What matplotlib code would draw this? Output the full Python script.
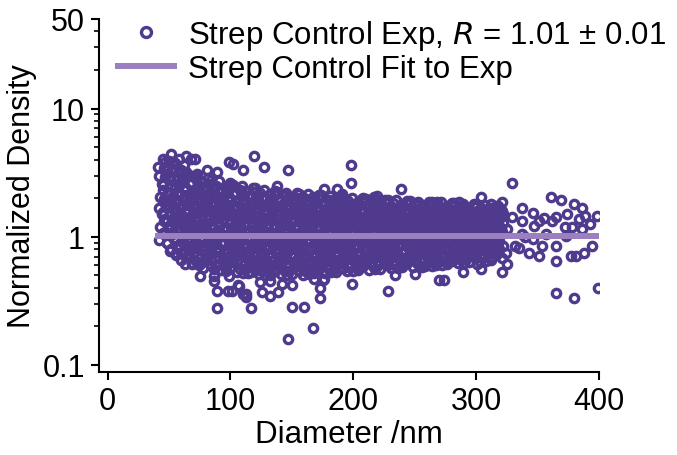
import matplotlib
matplotlib.use("Agg")
import matplotlib.pyplot as plt
from matplotlib.ticker import FixedLocator, NullFormatter
import numpy as np

plt.rcParams['font.family'] = ['Liberation Sans', 'DejaVu Sans']

# dense core of the cloud, read column by column (diameter in nm)
core_diam = [
    42, 45, 43, 46, 44, 42, 46, 43, 45, 44, 42, 46,
    51, 48, 52, 49, 48, 51, 50, 52, 49, 52, 50, 48,
    56, 58, 54, 57, 55, 58, 54, 56, 58, 55, 57, 55,
    60, 63, 61, 64, 62, 60, 64, 61, 63, 62, 60, 64,
    69, 66, 70, 67, 66, 69, 68, 70, 67, 70, 68, 66,
    74, 76, 72, 75, 73, 76, 72, 74, 76, 73, 75, 73,
    78, 81, 79, 82, 80, 78, 82, 79, 81, 80, 78, 82,
    87, 84, 88, 85, 84, 87, 86, 88, 85, 88, 86, 84,
    92, 94, 90, 93, 91, 94, 90, 92, 94, 91, 93, 91,
    96, 99, 97, 100, 98, 96, 100, 97, 99, 98, 96, 100,
    105, 102, 106, 103, 102, 105, 104, 106, 103, 106, 104, 102,
    110, 112, 108, 111, 109, 112, 108, 110, 112, 109, 111, 109,
    114, 117, 115, 118, 116, 114, 118, 115, 117, 116, 114, 118,
    123, 120, 124, 121, 120, 123, 122, 124, 121, 124, 122, 120,
    128, 130, 126, 129, 127, 130, 126, 128, 130, 127, 129, 127,
    132, 135, 133, 136, 134, 132, 136, 133, 135, 134, 132, 136,
    141, 138, 142, 139, 138, 141, 140, 142, 139, 142, 140, 138,
    146, 148, 144, 147, 145, 148, 144, 146, 148, 145, 147, 145,
    150, 153, 151, 154, 152, 150, 154, 151, 153, 152, 150, 154,
    159, 156, 160, 157, 156, 159, 158, 160, 157, 160, 158, 156,
    164, 166, 162, 165, 163, 166, 162, 164, 166, 163, 165, 163,
    168, 171, 169, 172, 170, 168, 172, 169, 171, 170, 168, 172,
    177, 174, 178, 175, 174, 177, 176, 178, 175, 178, 176, 174,
    182, 184, 180, 183, 181, 184, 180, 182, 184, 181, 183, 181,
    186, 189, 187, 190, 188, 186, 190, 187, 189, 188, 186, 190,
    195, 192, 196, 193, 192, 195, 194, 196, 193, 196, 194, 192,
    200, 202, 198, 201, 199, 202, 198, 200, 202, 199, 201, 199,
    204, 207, 205, 208, 206, 204, 208, 205, 207, 206, 204, 208,
    213, 210, 214, 211, 210, 213, 212, 214, 211, 214, 212, 210,
    218, 220, 216, 219, 217, 220, 216, 218, 220, 217, 219, 217,
    222, 225, 223, 226, 224, 222, 226, 223, 225, 224, 222, 226,
    231, 228, 232, 229, 228, 231, 230, 232, 229, 232, 230, 228,
    236, 238, 234, 237, 235, 238, 234, 236, 238, 235, 237, 235,
    240, 243, 241, 244, 242, 240, 244, 241, 243, 242, 240, 244,
    249, 246, 250, 247, 246, 249, 248, 250, 247, 250, 248, 246,
    254, 256, 252, 255, 253, 256, 252, 254, 256, 253, 255, 253,
    258, 261, 259, 262, 260, 258, 262, 259, 261, 260, 258, 262,
    267, 264, 268, 265, 264, 267, 266, 268, 265, 268, 266, 264,
    272, 274, 270, 273, 271, 274, 270, 272, 274, 271, 273, 271,
    276, 279, 277, 280, 278, 276, 280, 277, 279, 278, 276, 280,
    285, 282, 286, 283, 282, 285, 284, 286, 283, 286, 284, 282,
    290, 292, 288, 291, 289, 292, 288, 290, 292, 289, 291, 289,
    294, 297, 295, 298, 296, 294, 298, 295, 297, 296, 294, 298,
    303, 300, 304, 301, 300, 303, 302, 304, 301, 304, 302, 300,
    308, 310, 306, 309, 307, 310, 306, 308, 310, 307, 309, 307,
    312, 315, 313, 316, 314, 312, 316, 313, 315, 314, 312, 316,
    321, 318, 322, 319, 318, 321, 320, 322, 319, 322, 320, 318,
]
core_dens = [
    0.95, 1.07, 1.2, 1.33, 1.5, 1.68, 1.85, 2.05, 2.3, 2.6, 3.0, 3.45,
    0.78, 0.9, 1.03, 1.17, 1.32, 1.5, 1.7, 1.92, 2.2, 2.5, 2.9, 3.55,
    0.72, 0.84, 0.97, 1.1, 1.26, 1.42, 1.62, 1.84, 2.1, 2.4, 2.8, 3.35,
    0.66, 0.77, 0.9, 1.03, 1.18, 1.35, 1.54, 1.76, 2.0, 2.3, 2.7, 3.2,
    0.62, 0.73, 0.85, 0.98, 1.12, 1.28, 1.46, 1.67, 1.92, 2.2, 2.6, 3.05,
    0.6, 0.7, 0.82, 0.94, 1.08, 1.24, 1.42, 1.62, 1.86, 2.15, 2.5, 2.95,
    0.57, 0.67, 0.79, 0.91, 1.05, 1.2, 1.37, 1.57, 1.8, 2.08, 2.42, 2.85,
    0.56, 0.66, 0.77, 0.89, 1.02, 1.17, 1.34, 1.53, 1.76, 2.02, 2.35, 2.78,
    0.55, 0.65, 0.76, 0.88, 1.0, 1.15, 1.31, 1.5, 1.72, 1.98, 2.3, 2.7,
    0.54, 0.64, 0.74, 0.86, 0.98, 1.12, 1.28, 1.46, 1.68, 1.93, 2.22, 2.62,
    0.53, 0.63, 0.73, 0.84, 0.96, 1.1, 1.25, 1.43, 1.64, 1.88, 2.18, 2.55,
    0.52, 0.62, 0.72, 0.83, 0.95, 1.08, 1.23, 1.4, 1.6, 1.83, 2.12, 2.48,
    0.52, 0.61, 0.71, 0.82, 0.94, 1.07, 1.21, 1.38, 1.57, 1.8, 2.08, 2.42,
    0.51, 0.6, 0.7, 0.81, 0.93, 1.06, 1.2, 1.36, 1.55, 1.77, 2.04, 2.38,
    0.5, 0.59, 0.69, 0.8, 0.92, 1.04, 1.18, 1.34, 1.53, 1.75, 2.0, 2.32,
    0.5, 0.59, 0.69, 0.79, 0.91, 1.03, 1.17, 1.33, 1.51, 1.72, 1.97, 2.28,
    0.51, 0.6, 0.7, 0.8, 0.91, 1.03, 1.16, 1.31, 1.49, 1.7, 1.95, 2.24,
    0.5, 0.59, 0.68, 0.78, 0.89, 1.01, 1.14, 1.29, 1.47, 1.67, 1.92, 2.2,
    0.51, 0.6, 0.69, 0.79, 0.9, 1.02, 1.15, 1.3, 1.47, 1.66, 1.9, 2.18,
    0.5, 0.59, 0.68, 0.78, 0.89, 1.0, 1.13, 1.28, 1.45, 1.65, 1.88, 2.16,
    0.51, 0.6, 0.69, 0.79, 0.9, 1.01, 1.14, 1.29, 1.46, 1.65, 1.87, 2.14,
    0.52, 0.61, 0.7, 0.8, 0.9, 1.01, 1.14, 1.28, 1.45, 1.63, 1.85, 2.12,
    0.52, 0.6, 0.69, 0.79, 0.89, 1.0, 1.13, 1.27, 1.43, 1.62, 1.84, 2.1,
    0.53, 0.61, 0.7, 0.8, 0.9, 1.01, 1.13, 1.27, 1.43, 1.61, 1.82, 2.08,
    0.53, 0.62, 0.71, 0.8, 0.9, 1.01, 1.13, 1.26, 1.42, 1.6, 1.8, 2.06,
    0.54, 0.62, 0.71, 0.81, 0.91, 1.02, 1.14, 1.27, 1.42, 1.6, 1.8, 2.05,
    0.54, 0.63, 0.72, 0.81, 0.91, 1.02, 1.13, 1.26, 1.41, 1.58, 1.78, 2.02,
    0.55, 0.63, 0.72, 0.81, 0.91, 1.01, 1.12, 1.25, 1.4, 1.57, 1.77, 2.0,
    0.55, 0.64, 0.73, 0.82, 0.92, 1.02, 1.13, 1.26, 1.4, 1.56, 1.75, 1.98,
    0.56, 0.64, 0.73, 0.82, 0.92, 1.02, 1.13, 1.25, 1.39, 1.55, 1.74, 1.96,
    0.56, 0.65, 0.74, 0.83, 0.92, 1.02, 1.13, 1.25, 1.39, 1.55, 1.73, 1.95,
    0.57, 0.65, 0.74, 0.83, 0.93, 1.03, 1.14, 1.26, 1.39, 1.54, 1.72, 1.94,
    0.57, 0.66, 0.75, 0.84, 0.93, 1.03, 1.13, 1.25, 1.38, 1.53, 1.71, 1.92,
    0.58, 0.66, 0.75, 0.84, 0.93, 1.03, 1.13, 1.25, 1.38, 1.53, 1.7, 1.9,
    0.58, 0.67, 0.75, 0.84, 0.94, 1.04, 1.14, 1.26, 1.39, 1.53, 1.7, 1.9,
    0.59, 0.67, 0.76, 0.85, 0.94, 1.04, 1.14, 1.25, 1.38, 1.52, 1.69, 1.88,
    0.59, 0.68, 0.76, 0.85, 0.94, 1.03, 1.13, 1.24, 1.37, 1.51, 1.68, 1.87,
    0.6, 0.68, 0.77, 0.86, 0.95, 1.04, 1.14, 1.25, 1.37, 1.51, 1.67, 1.86,
    0.6, 0.69, 0.77, 0.86, 0.95, 1.04, 1.14, 1.25, 1.37, 1.5, 1.66, 1.85,
    0.61, 0.69, 0.78, 0.86, 0.95, 1.04, 1.14, 1.24, 1.36, 1.5, 1.65, 1.84,
    0.62, 0.7, 0.78, 0.87, 0.96, 1.05, 1.15, 1.25, 1.37, 1.5, 1.65, 1.82,
    0.62, 0.7, 0.79, 0.87, 0.96, 1.05, 1.14, 1.25, 1.36, 1.49, 1.64, 1.8,
    0.63, 0.71, 0.79, 0.88, 0.96, 1.05, 1.15, 1.25, 1.36, 1.49, 1.63, 1.8,
    0.64, 0.72, 0.8, 0.88, 0.97, 1.06, 1.15, 1.26, 1.37, 1.49, 1.63, 1.78,
    0.65, 0.73, 0.81, 0.89, 0.97, 1.06, 1.16, 1.26, 1.37, 1.49, 1.62, 1.76,
    0.66, 0.74, 0.82, 0.9, 0.98, 1.07, 1.16, 1.26, 1.37, 1.49, 1.62, 1.75,
    0.68, 0.76, 0.84, 0.92, 1.0, 1.08, 1.17, 1.27, 1.38, 1.5, 1.62, 1.74,
]

# second, staggered set of core points lying between the columns above
fill_diam = [
    48, 46, 49, 47, 45, 48, 46, 49, 45, 47, 48,
    52, 55, 53, 51, 54, 55, 52, 53, 55, 51, 52,
    60, 58, 61, 59, 57, 60, 58, 61, 57, 59, 60,
    64, 67, 65, 63, 66, 67, 64, 65, 67, 63, 64,
    72, 70, 73, 71, 69, 72, 70, 73, 69, 71, 72,
    76, 79, 77, 75, 78, 79, 76, 77, 79, 75, 76,
    84, 82, 85, 83, 81, 84, 82, 85, 81, 83, 84,
    88, 91, 89, 87, 90, 91, 88, 89, 91, 87, 88,
    96, 94, 97, 95, 93, 96, 94, 97, 93, 95, 96,
    100, 103, 101, 99, 102, 103, 100, 101, 103, 99, 100,
    108, 106, 109, 107, 105, 108, 106, 109, 105, 107, 108,
    112, 115, 113, 111, 114, 115, 112, 113, 115, 111, 112,
    120, 118, 121, 119, 117, 120, 118, 121, 117, 119, 120,
    124, 127, 125, 123, 126, 127, 124, 125, 127, 123, 124,
    132, 130, 133, 131, 129, 132, 130, 133, 129, 131, 132,
    136, 139, 137, 135, 138, 139, 136, 137, 139, 135, 136,
    144, 142, 145, 143, 141, 144, 142, 145, 141, 143, 144,
    148, 151, 149, 147, 150, 151, 148, 149, 151, 147, 148,
    156, 154, 157, 155, 153, 156, 154, 157, 153, 155, 156,
    160, 163, 161, 159, 162, 163, 160, 161, 163, 159, 160,
    168, 166, 169, 167, 165, 168, 166, 169, 165, 167, 168,
    172, 175, 173, 171, 174, 175, 172, 173, 175, 171, 172,
    180, 178, 181, 179, 177, 180, 178, 181, 177, 179, 180,
    184, 187, 185, 183, 186, 187, 184, 185, 187, 183, 184,
    192, 190, 193, 191, 189, 192, 190, 193, 189, 191, 192,
    196, 199, 197, 195, 198, 199, 196, 197, 199, 195, 196,
    204, 202, 205, 203, 201, 204, 202, 205, 201, 203, 204,
    208, 211, 209, 207, 210, 211, 208, 209, 211, 207, 208,
    216, 214, 217, 215, 213, 216, 214, 217, 213, 215, 216,
    220, 223, 221, 219, 222, 223, 220, 221, 223, 219, 220,
    228, 226, 229, 227, 225, 228, 226, 229, 225, 227, 228,
    232, 235, 233, 231, 234, 235, 232, 233, 235, 231, 232,
    240, 238, 241, 239, 237, 240, 238, 241, 237, 239, 240,
    244, 247, 245, 243, 246, 247, 244, 245, 247, 243, 244,
    252, 250, 253, 251, 249, 252, 250, 253, 249, 251, 252,
    256, 259, 257, 255, 258, 259, 256, 257, 259, 255, 256,
    264, 262, 265, 263, 261, 264, 262, 265, 261, 263, 264,
    268, 271, 269, 267, 270, 271, 268, 269, 271, 267, 268,
    276, 274, 277, 275, 273, 276, 274, 277, 273, 275, 276,
    280, 283, 281, 279, 282, 283, 280, 281, 283, 279, 280,
    288, 286, 289, 287, 285, 288, 286, 289, 285, 287, 288,
    292, 295, 293, 291, 294, 295, 292, 293, 295, 291, 292,
    300, 298, 301, 299, 297, 300, 298, 301, 297, 299, 300,
    304, 307, 305, 303, 306, 307, 304, 305, 307, 303, 304,
    312, 310, 313, 311, 309, 312, 310, 313, 309, 311, 312,
    316, 319, 317, 315, 318, 319, 316, 317, 319, 315, 316,
]
fill_dens = [
    0.9, 1.05, 1.2, 1.38, 1.56, 1.76, 1.98, 2.25, 2.55, 2.95, 3.4,
    0.8, 0.93, 1.08, 1.24, 1.42, 1.61, 1.82, 2.07, 2.38, 2.75, 3.25,
    0.74, 0.86, 1.0, 1.15, 1.32, 1.5, 1.7, 1.94, 2.22, 2.58, 3.1,
    0.69, 0.8, 0.94, 1.08, 1.24, 1.41, 1.6, 1.82, 2.1, 2.45, 2.9,
    0.65, 0.76, 0.89, 1.02, 1.17, 1.34, 1.53, 1.75, 2.02, 2.35, 2.8,
    0.62, 0.73, 0.85, 0.98, 1.12, 1.28, 1.47, 1.68, 1.93, 2.25, 2.68,
    0.6, 0.71, 0.83, 0.95, 1.09, 1.24, 1.42, 1.63, 1.87, 2.18, 2.58,
    0.59, 0.69, 0.81, 0.93, 1.06, 1.21, 1.39, 1.59, 1.83, 2.13, 2.5,
    0.58, 0.68, 0.8, 0.91, 1.04, 1.19, 1.36, 1.56, 1.79, 2.08, 2.44,
    0.57, 0.67, 0.78, 0.9, 1.02, 1.17, 1.33, 1.52, 1.75, 2.03, 2.38,
    0.56, 0.66, 0.77, 0.88, 1.01, 1.15, 1.31, 1.5, 1.72, 1.98, 2.32,
    0.56, 0.65, 0.76, 0.87, 1.0, 1.13, 1.29, 1.47, 1.68, 1.94, 2.26,
    0.55, 0.65, 0.75, 0.86, 0.98, 1.12, 1.27, 1.45, 1.66, 1.9, 2.22,
    0.55, 0.64, 0.74, 0.85, 0.97, 1.1, 1.25, 1.43, 1.63, 1.87, 2.18,
    0.54, 0.64, 0.74, 0.85, 0.96, 1.09, 1.24, 1.41, 1.61, 1.84, 2.14,
    0.54, 0.64, 0.74, 0.84, 0.96, 1.09, 1.23, 1.4, 1.59, 1.82, 2.1,
    0.54, 0.63, 0.73, 0.84, 0.95, 1.08, 1.22, 1.38, 1.57, 1.79, 2.07,
    0.54, 0.63, 0.73, 0.83, 0.95, 1.07, 1.21, 1.37, 1.56, 1.77, 2.04,
    0.54, 0.63, 0.73, 0.83, 0.94, 1.06, 1.2, 1.36, 1.55, 1.76, 2.02,
    0.55, 0.64, 0.73, 0.84, 0.95, 1.07, 1.2, 1.36, 1.54, 1.75, 2.0,
    0.55, 0.64, 0.74, 0.84, 0.95, 1.07, 1.2, 1.35, 1.53, 1.73, 1.98,
    0.56, 0.65, 0.74, 0.84, 0.95, 1.07, 1.2, 1.35, 1.52, 1.72, 1.96,
    0.56, 0.65, 0.75, 0.85, 0.95, 1.07, 1.2, 1.35, 1.51, 1.71, 1.95,
    0.57, 0.66, 0.75, 0.85, 0.96, 1.07, 1.2, 1.34, 1.51, 1.7, 1.93,
    0.57, 0.66, 0.76, 0.86, 0.96, 1.08, 1.2, 1.34, 1.5, 1.69, 1.92,
    0.58, 0.67, 0.76, 0.86, 0.96, 1.07, 1.2, 1.33, 1.49, 1.68, 1.9,
    0.58, 0.67, 0.76, 0.86, 0.96, 1.07, 1.19, 1.32, 1.48, 1.67, 1.88,
    0.59, 0.68, 0.77, 0.87, 0.97, 1.07, 1.19, 1.32, 1.48, 1.66, 1.87,
    0.59, 0.68, 0.77, 0.87, 0.97, 1.07, 1.19, 1.32, 1.47, 1.65, 1.85,
    0.6, 0.69, 0.78, 0.87, 0.97, 1.07, 1.19, 1.32, 1.47, 1.64, 1.84,
    0.6, 0.69, 0.78, 0.88, 0.97, 1.08, 1.19, 1.32, 1.46, 1.63, 1.83,
    0.61, 0.7, 0.79, 0.88, 0.98, 1.08, 1.19, 1.31, 1.45, 1.62, 1.82,
    0.61, 0.7, 0.79, 0.88, 0.98, 1.08, 1.19, 1.31, 1.45, 1.61, 1.8,
    0.62, 0.71, 0.8, 0.89, 0.98, 1.08, 1.19, 1.31, 1.45, 1.61, 1.8,
    0.62, 0.71, 0.8, 0.89, 0.99, 1.09, 1.19, 1.31, 1.44, 1.6, 1.78,
    0.63, 0.72, 0.8, 0.9, 0.99, 1.09, 1.19, 1.31, 1.44, 1.59, 1.77,
    0.63, 0.72, 0.81, 0.9, 0.99, 1.09, 1.19, 1.3, 1.43, 1.58, 1.76,
    0.64, 0.73, 0.81, 0.9, 1.0, 1.09, 1.19, 1.3, 1.43, 1.57, 1.75,
    0.64, 0.73, 0.82, 0.91, 1.0, 1.09, 1.19, 1.3, 1.42, 1.56, 1.74,
    0.65, 0.74, 0.82, 0.91, 1.0, 1.1, 1.2, 1.3, 1.42, 1.56, 1.73,
    0.66, 0.74, 0.83, 0.92, 1.0, 1.1, 1.2, 1.3, 1.42, 1.55, 1.72,
    0.67, 0.75, 0.83, 0.92, 1.01, 1.1, 1.2, 1.3, 1.42, 1.55, 1.71,
    0.68, 0.76, 0.84, 0.93, 1.01, 1.1, 1.2, 1.31, 1.42, 1.55, 1.7,
    0.69, 0.77, 0.85, 0.93, 1.02, 1.11, 1.21, 1.31, 1.42, 1.55, 1.69,
    0.7, 0.78, 0.86, 0.94, 1.03, 1.12, 1.21, 1.31, 1.42, 1.54, 1.68,
    0.72, 0.8, 0.87, 0.95, 1.04, 1.12, 1.21, 1.31, 1.42, 1.54, 1.66,
]

# points at the edges of the cloud and the sparse tail, read one by one
edge_diam = [
    52, 41, 45, 64, 71, 99, 110, 119, 127, 89, 81, 68, 58, 73, 60, 99, 102,
    147, 198, 198, 239, 138, 176, 187, 219, 191, 207, 217, 259, 268, 167,
    47, 50, 55, 62,
    56, 63, 69, 75, 87, 89, 98, 89, 117, 113, 106, 126, 124, 87, 99, 107,
    147, 167, 150, 160, 173, 173, 228, 199, 132, 139, 234, 250, 150, 168,
    176, 132, 110, 113, 142, 101, 117, 128, 162, 185, 175,
    329, 304, 361, 369, 380, 386, 398, 374, 389, 365, 355, 346, 337, 321,
    321, 312, 286, 258,
    365, 380, 399, 316, 324, 308, 332, 340, 347, 329, 337, 351, 362, 319,
    325, 337, 346, 373, 384, 372, 378, 386, 393, 357, 394, 388, 381, 377,
    365, 365, 354, 351, 343, 335, 325, 321, 304, 301, 289, 270, 274, 264, 256,
]
edge_dens = [
    4.45, 3.5, 4.05, 4.3, 4.05, 3.85, 3.3, 4.3, 3.5, 3.2, 3.3, 4.05, 4.05, 3.1, 3.3, 2.5, 3.7,
    3.3, 3.65, 2.62, 2.37, 2.5, 2.35, 2.35, 2.08, 2.17, 1.98, 2.05, 1.75, 1.88, 2.05,
    3.8, 3.9, 3.75, 3.6,
    0.75, 0.61, 0.61, 0.49, 0.49, 0.38, 0.38, 0.28, 0.28, 0.36, 0.42, 0.37, 0.44, 0.45, 0.49, 0.41,
    0.16, 0.195, 0.284, 0.284, 0.334, 0.40, 0.38, 0.43, 0.45, 0.37, 0.50, 0.51, 0.42, 0.47,
    0.47, 0.345, 0.36, 0.34, 0.43, 0.38, 0.53, 0.54, 0.53, 0.56, 0.46,
    2.62, 2.05, 2.05, 1.94, 1.81, 1.69, 1.46, 1.51, 1.46, 1.43, 1.41, 1.54, 1.69, 1.88,
    1.6, 1.81, 1.88, 1.75,
    0.365, 0.33, 0.40, 0.74, 0.74, 0.87, 0.85, 1.0, 1.22, 1.43, 1.33, 1.33, 1.33, 1.6,
    1.15, 1.05, 0.96, 1.02, 1.38, 1.2, 1.2, 1.15, 1.26, 1.05, 0.85, 0.74, 0.71, 0.71,
    0.84, 0.65, 0.85, 0.71, 0.74, 0.81, 0.61, 0.53, 0.56, 0.61, 0.53, 0.46, 0.46, 0.59, 0.58,
]

fit_diam = [41, 400]
fit_dens = [1.01, 1.01]

y_major = [0.1, 1, 10, 50]
y_major_labels = ["0.1", "1", "10", "50"]
y_minor = [0.2, 0.3, 0.4, 0.5, 0.6, 0.7, 0.8, 0.9, 2, 3, 4, 5, 6, 7, 8, 9, 20, 30, 40]
x_ticks = [0, 100, 200, 300, 400]

exp_color = '#4F3A8D'
fit_color = '#9B80C0'

fig = plt.figure(figsize=(6.77, 4.56), dpi=100)
ax = fig.add_axes([99 / 677, 1 - 373 / 456, 500 / 677, 353 / 456])

diam = np.concatenate([core_diam, fill_diam, edge_diam])
dens = np.concatenate([core_dens, fill_dens, edge_dens])

ax.plot(diam, dens, linestyle='none', marker='o', markersize=6.0,
        markerfacecolor='none', markeredgecolor=exp_color, markeredgewidth=2.4,
        label='Strep Control Exp, $\\it{R}$ = 1.01 ± 0.01', zorder=2)
ax.plot(fit_diam, fit_dens, color=fit_color, linewidth=4.3,
        label='Strep Control Fit to Exp', zorder=3)

ax.set_yscale('log')
ax.set_xlim(-7, 400)
ax.set_ylim(0.088, 50)

ax.yaxis.set_major_locator(FixedLocator(y_major))
ax.set_yticklabels(y_major_labels)
ax.yaxis.set_minor_locator(FixedLocator(y_minor))
ax.yaxis.set_minor_formatter(NullFormatter())
ax.set_xticks(x_ticks)

for side in ['top', 'right']:
    ax.spines[side].set_visible(False)
for side in ['left', 'bottom']:
    ax.spines[side].set_linewidth(1.5)

ax.tick_params(which='major', direction='out', length=6, width=1.5, labelsize=22, pad=4)
ax.tick_params(which='minor', direction='out', length=3.5, width=1.2)

ax.set_xlabel('Diameter /nm', fontsize=22.5, labelpad=2)
ax.set_ylabel('Normalized Density', fontsize=22, labelpad=4)

ax.legend(loc='upper left', bbox_to_anchor=(118 / 677, 1 - 19 / 456),
          bbox_transform=fig.transFigure, frameon=False, fontsize=22.5,
          handlelength=1.8, handletextpad=0.45, labelspacing=0.05,
          borderpad=0, borderaxespad=0, markerscale=1.2)

fig.savefig('out.png', dpi=100)
